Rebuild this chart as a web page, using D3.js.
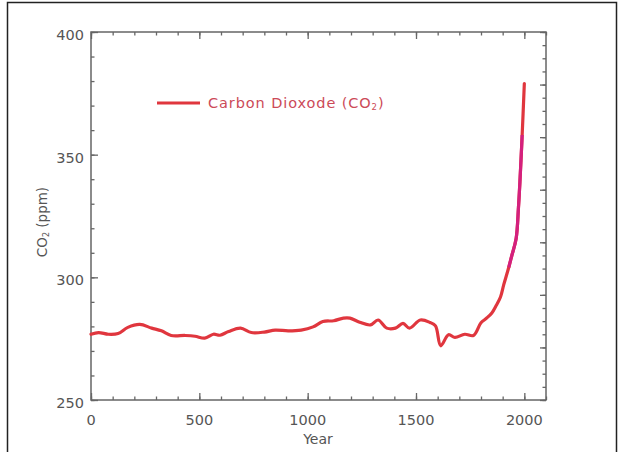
<!DOCTYPE html>
<html>
<head>
<meta charset="utf-8">
<script src="https://cdn.jsdelivr.net/npm/d3@7"></script>
<style>
  html, body { margin: 0; padding: 0; background: #fff; }
  svg { display: block; }
  text { font-family: "DejaVu Sans", sans-serif; }
</style>
</head>
<body>
<svg id="chart" width="624" height="452"></svg>
<script>
// ---- data ----
const years = [0, 35, 80, 125, 170, 225, 280, 325, 370, 435, 480, 525, 565, 595, 635, 690, 740, 800, 850, 910,
  970, 1025, 1070, 1120, 1165, 1195, 1240, 1290, 1325, 1365, 1405, 1440, 1470, 1520, 1565, 1590, 1614, 1650, 1680,
  1725, 1765, 1800, 1825, 1850, 1870, 1890, 1905, 1928, 1942, 1962, 1973, 1980, 1990, 2000];
const co2 = [276.8, 277.5, 276.8, 277.1, 279.6, 280.8, 279.3, 278.2, 276.3, 276.3, 276.0, 275.2, 276.8, 276.4, 277.9,
  279.3, 277.5, 277.7, 278.5, 278.2, 278.5, 279.8, 282.0, 282.3, 283.4, 283.4, 281.7, 280.6, 282.6, 279.3, 279.3,
  281.2, 279.3, 282.6, 281.6, 280.2, 272.1, 276.6, 275.5, 276.8, 276.3, 281.5, 283.3, 285.5, 288.5, 292.0, 297.0,
  304.0, 308.8, 315.7, 328.6, 339.5, 358.0, 379.0];
const modernStartYear = 1925;           // instrumental segment drawn in magenta
const modernEndYear = 1993;
const yTickLabels = [250, 300, 350, 400];
const xTickLabels = [0, 500, 1000, 1500, 2000];
const legendLabel = "Carbon Dioxode (CO";
const xTitle = "Year";

// ---- layout ----
const svg = d3.select("#chart");
const L = 91, R = 546, T = 32, B = 400;
const x = d3.scaleLinear().domain([0, 2100]).range([L, R]);
const y = d3.scaleLinear().domain([250, 400]).range([B, T]);
const yRight = d3.scaleLinear().domain([0, 1400]).range([B, T]);

const axisColor = "#666";
const labelColor = "#555";

// outer frame
svg.append("path")
  .attr("d", `M7.5,452 V2.5 H616.5 V452`)
  .attr("fill", "none").attr("stroke", "#222").attr("stroke-width", 1.5);

function styleAxis(g) {
  g.select(".domain").remove();
  g.selectAll(".tick line").attr("stroke", axisColor).attr("stroke-width", 1.3);
  g.selectAll(".tick text").remove();
}

const xMinor = d3.range(0, 2101, 100);
const xMajor = d3.range(0, 2101, 500);
const yMinor = d3.range(250, 401, 10);
const yMajor = d3.range(250, 401, 50);

svg.append("g").attr("transform", `translate(0,${B})`)
  .call(d3.axisBottom(x).tickValues(xMinor).tickSize(-3.5)).call(styleAxis);
svg.append("g").attr("transform", `translate(0,${B})`)
  .call(d3.axisBottom(x).tickValues(xMajor).tickSize(-7)).call(styleAxis);
svg.append("g").attr("transform", `translate(0,${T})`)
  .call(d3.axisTop(x).tickValues(xMinor).tickSize(-3.5)).call(styleAxis);
svg.append("g").attr("transform", `translate(0,${T})`)
  .call(d3.axisTop(x).tickValues(xMajor).tickSize(-7)).call(styleAxis);
svg.append("g").attr("transform", `translate(${L},0)`)
  .call(d3.axisLeft(y).tickValues(yMinor).tickSize(-3.5)).call(styleAxis);
svg.append("g").attr("transform", `translate(${L},0)`)
  .call(d3.axisLeft(y).tickValues(yMajor).tickSize(-7)).call(styleAxis);
svg.append("g").attr("transform", `translate(${R},0)`)
  .call(d3.axisRight(yRight).tickValues(d3.range(0, 1401, 50)).tickSize(-3.5)).call(styleAxis);
svg.append("g").attr("transform", `translate(${R},0)`)
  .call(d3.axisRight(yRight).tickValues(d3.range(0, 1401, 200)).tickSize(-6)).call(styleAxis);

// frame
svg.append("rect").attr("x", L).attr("y", T).attr("width", R - L).attr("height", B - T)
  .attr("fill", "none").attr("stroke", axisColor).attr("stroke-width", 1.5);

// tick labels
svg.append("g").selectAll("text").data(xTickLabels).join("text")
  .attr("x", d => x(d)).attr("y", 425)
  .attr("text-anchor", "middle").attr("font-size", 14.5).attr("fill", labelColor)
  .text(d => d);
svg.append("g").selectAll("text").data(yTickLabels).join("text")
  .attr("x", 84).attr("y", d => y(d) + 8)
  .attr("text-anchor", "end").attr("font-size", 14.5).attr("fill", labelColor)
  .text(d => d);

// axis titles
svg.append("text").attr("x", 318).attr("y", 444).attr("text-anchor", "middle")
  .attr("font-size", 14).attr("fill", labelColor).text(xTitle);
const yt = svg.append("text").attr("transform", "translate(47,222) rotate(-90)")
  .attr("text-anchor", "middle").attr("font-size", 13.5).attr("fill", labelColor);
yt.append("tspan").text("CO");
yt.append("tspan").attr("font-size", 8).attr("dy", 2).text("2");
yt.append("tspan").attr("dy", -2).text(" (ppm)");

// data line
const pts = years.map((yr, i) => ({ year: yr, v: co2[i] }));
const line = d3.line().x(d => x(d.year)).y(d => y(d.v)).curve(d3.curveCatmullRom.alpha(0.5));
svg.append("path").datum(pts).attr("d", line)
  .attr("fill", "none").attr("stroke", "#e0363e").attr("stroke-width", 3.2)
  .attr("stroke-linejoin", "round").attr("stroke-linecap", "round");
svg.append("path").datum(pts.filter(d => d.year >= modernStartYear && d.year <= modernEndYear)).attr("d", line)
  .attr("fill", "none").attr("stroke", "#d4207e").attr("stroke-width", 3.2)
  .attr("stroke-linejoin", "round").attr("stroke-linecap", "butt");

// legend
svg.append("line").attr("x1", 157).attr("x2", 200).attr("y1", 103).attr("y2", 103)
  .attr("stroke", "#e0363e").attr("stroke-width", 3.2);
const lt = svg.append("text").attr("x", 208).attr("y", 108)
  .attr("font-size", 14.5).attr("fill", "#cc4a58").attr("letter-spacing", 0.9);
lt.append("tspan").text(legendLabel);
lt.append("tspan").attr("font-size", 8.5).attr("dy", 2).text("2");
lt.append("tspan").attr("dy", -2).text(")");
</script>
</body>
</html>
